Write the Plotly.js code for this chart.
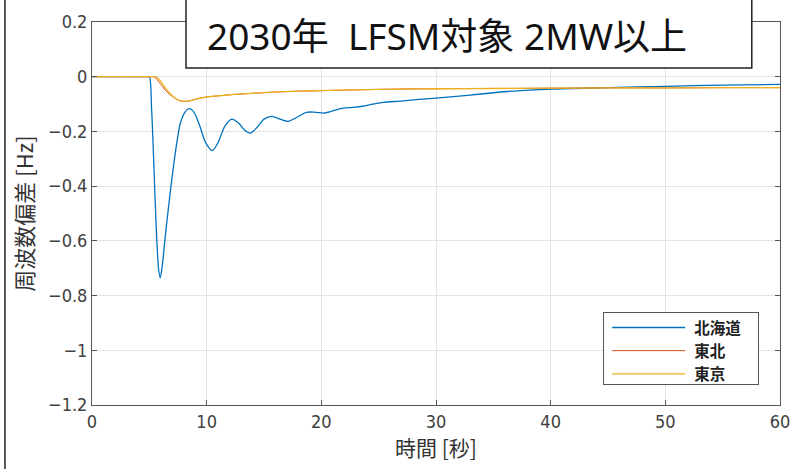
<!DOCTYPE html>
<html>
<head>
<meta charset="utf-8">
<script src="https://cdn.plot.ly/plotly-3.0.1.min.js"></script>
<style>body{margin:0;background:#fff;}#chart{width:793px;height:469px;}</style>
</head>
<body>
<div id="chart"></div>
<script>
// 北海道
const tHokkaido = [0, 2, 4, 4.8, 5.0, 5.2, 5.4, 5.6, 5.8, 5.95, 6.1, 6.4, 6.8, 7.1, 7.4, 7.7, 8.1, 8.5, 8.9, 9.4, 9.9, 10.5, 11.0, 11.6, 12.2, 12.8, 13.3, 13.8, 14.4, 15.0, 15.7, 16.4, 17.1, 17.8, 18.7, 19.5, 20.2, 21.0, 21.9, 22.8, 23.6, 24.5, 25.4, 26.9, 30, 33, 36.2, 40.2, 45, 50, 55, 60];
const vHokkaido = [0, 0, 0, 0, 0, -0.12, -0.33, -0.55, -0.70, -0.735, -0.70, -0.58, -0.43, -0.33, -0.24, -0.17, -0.13, -0.117, -0.13, -0.18, -0.24, -0.27, -0.24, -0.18, -0.155, -0.17, -0.195, -0.206, -0.185, -0.155, -0.145, -0.155, -0.163, -0.15, -0.13, -0.13, -0.133, -0.125, -0.115, -0.112, -0.108, -0.1, -0.094, -0.089, -0.078, -0.067, -0.054, -0.045, -0.04, -0.035, -0.031, -0.028];
// 東北
const tTohoku = [0, 2, 4, 5.0, 5.4, 5.7, 6.0, 6.3, 6.6, 7.0, 7.5, 8.0, 8.5, 9.0, 10, 11, 12, 13.5, 15.5, 18, 20, 23, 27, 30, 35, 40, 45, 50, 55, 60];
const vTohoku = [0, 0, 0, 0, 0, -0.012, -0.028, -0.045, -0.058, -0.072, -0.085, -0.09, -0.088, -0.082, -0.074, -0.07, -0.066, -0.062, -0.057, -0.053, -0.051, -0.048, -0.045, -0.044, -0.043, -0.042, -0.041, -0.041, -0.04, -0.04];
// 東京
const tTokyo = [0, 2, 4, 5.1, 5.5, 5.9, 6.2, 6.6, 7.0, 7.5, 8.0, 8.5, 9.0, 10, 11, 12, 13.5, 15.5, 18, 20, 23, 27, 30, 35, 40, 45, 50, 55, 60];
const vTokyo = [0, 0, 0, 0, 0, -0.012, -0.03, -0.052, -0.07, -0.085, -0.09, -0.089, -0.083, -0.074, -0.07, -0.066, -0.062, -0.057, -0.053, -0.051, -0.048, -0.045, -0.044, -0.043, -0.042, -0.041, -0.041, -0.04, -0.04];

const xTicks = [0, 10, 20, 30, 40, 50, 60];
const yTicks = [0.2, 0, -0.2, -0.4, -0.6, -0.8, -1, -1.2];

const tickFont = {family: 'Liberation Sans Narrow, DejaVu Sans Condensed, Arial Narrow, sans-serif', size: 18, color: '#404040'};
const cjk = 'Noto Sans CJK JP, sans-serif';
const mixed = 'Noto Sans, Noto Sans CJK JP, sans-serif';

const traces = [
  {x: tHokkaido, y: vHokkaido, name: '北海道', mode: 'lines', line: {color: '#0072BD', width: 1.3, shape: 'spline', smoothing: 0.8}},
  {x: tTohoku, y: vTohoku, name: '東北', mode: 'lines', line: {color: '#D95319', width: 1, shape: 'spline', smoothing: 0.8}},
  {x: tTokyo, y: vTokyo, name: '東京', mode: 'lines', line: {color: '#EDB120', width: 1.3, shape: 'spline', smoothing: 0.8}}
];

const layout = {
  width: 793, height: 469,
  margin: {l: 92, r: 13, t: 22, b: 64},
  paper_bgcolor: '#fff', plot_bgcolor: '#fff',
  showlegend: true,
  legend: {
    x: 0.743, y: 0.243, xanchor: 'left', yanchor: 'top',
    bordercolor: '#555', borderwidth: 1, bgcolor: '#fff',
    font: {family: cjk, size: 15.5, color: '#222', weight: 'bold'},
    traceorder: 'normal', tracegroupgap: 0
  },
  xaxis: {
    range: [0, 60], tickvals: xTicks, ticktext: xTicks.map(String),
    showgrid: true, gridcolor: '#e3e3e3', gridwidth: 1,
    zeroline: false, showline: true, linecolor: '#555', linewidth: 1, mirror: 'ticks',
    ticks: 'inside', ticklen: 5, tickcolor: '#555',
    tickfont: tickFont,
    title: {text: '時間 [秒]', font: {family: cjk, size: 21, color: '#333'}, standoff: 10}
  },
  yaxis: {
    range: [-1.2, 0.2], tickvals: yTicks,
    showgrid: true, gridcolor: '#e3e3e3', gridwidth: 1,
    zeroline: false, showline: true, linecolor: '#555', linewidth: 1, mirror: 'ticks',
    ticks: 'inside', ticklen: 5, tickcolor: '#555',
    tickfont: tickFont,
    title: {text: '周波数偏差 [Hz]', font: {family: cjk, size: 22, color: '#333'}, standoff: 8}
  },
  shapes: [
    {type: 'rect', xref: 'paper', yref: 'paper', x0: 0.1366, x1: 0.959, y0: 0.88, y1: 1.07,
     line: {color: '#222', width: 1.5}, fillcolor: '#fff', layer: 'above'},
    {type: 'line', xref: 'paper', yref: 'paper', x0: -0.1265, x1: -0.1265, y0: -0.2, y1: 1.1,
     line: {color: '#222', width: 1.5}}
  ],
  annotations: [
    {xref: 'paper', yref: 'paper', x: 0.516, y: 0.966, xanchor: 'center', yanchor: 'middle',
     text: '2030年\u00a0\u00a0LFSM対象 2MW以上', showarrow: false,
     font: {family: mixed, size: 37, color: '#111'}}
  ]
};

Plotly.newPlot('chart', traces, layout, {displayModeBar: false, staticPlot: true}).then(function (gd) {
  // lengthen legend line samples and resize the legend box to match the reference
  const shift = 50, widen = 62, shrink = 9, lift = 2;
  gd.querySelectorAll('.legend .legendlines path').forEach(function (p) {
    p.setAttribute('d', 'M8,0h73');
  });
  gd.querySelectorAll('.legend text.legendtext').forEach(function (t) {
    const x = parseFloat(t.getAttribute('x') || '0');
    t.setAttribute('x', x + shift);
    t.querySelectorAll('tspan').forEach(function (s) {
      if (s.getAttribute('x') !== null) s.setAttribute('x', parseFloat(s.getAttribute('x')) + shift);
    });
  });
  const sb = gd.querySelector('.legend .scrollbox');
  if (sb) {
    sb.removeAttribute('clip-path');
    const tr = sb.getAttribute('transform') || '';
    sb.setAttribute('transform', tr + ' translate(0,' + (-lift) + ')');
  }
  const bg = gd.querySelector('.legend rect.bg');
  if (bg) {
    bg.setAttribute('width', parseFloat(bg.getAttribute('width')) + widen);
    bg.setAttribute('height', parseFloat(bg.getAttribute('height')) - shrink);
  }
});
</script>
</body>
</html>
